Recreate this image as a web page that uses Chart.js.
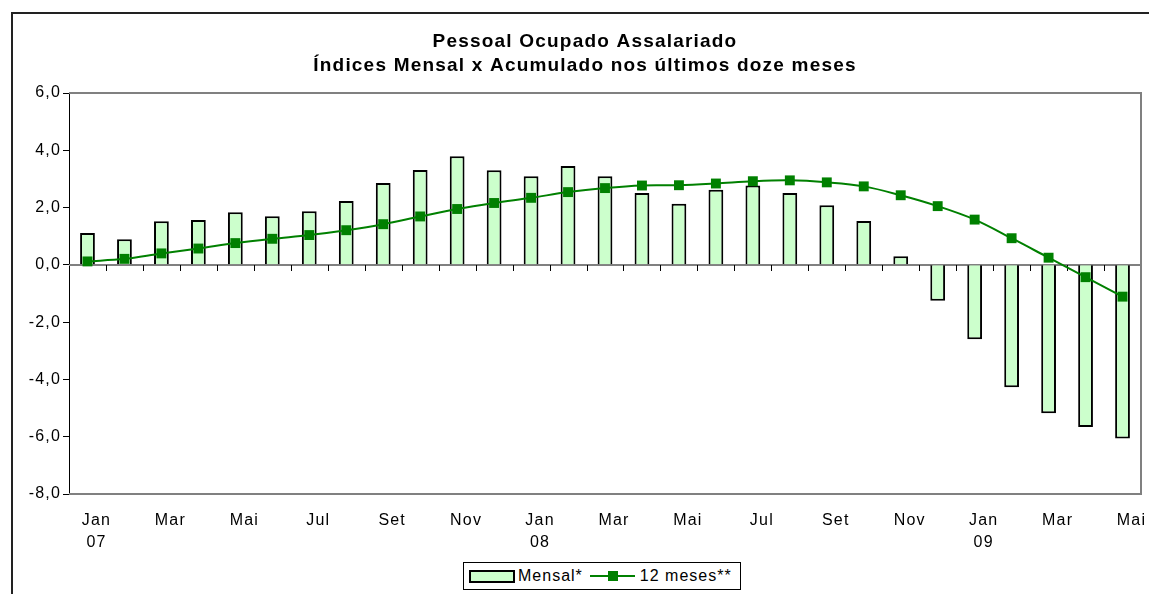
<!DOCTYPE html>
<html>
<head>
<meta charset="utf-8">
<script src="https://cdn.jsdelivr.net/npm/chart.js@4"></script>
<style>
  body { margin: 0; background: #fff; font-family: "Liberation Sans", Arial, sans-serif; }
  #wrap { position: relative; width: 1149px; height: 594px; }
  #frame { position: absolute; left: 11px; top: 12px; right: -5px; bottom: -5px; border-left: 2px solid #222; border-top: 2px solid #222; }
  #legend { position: absolute; left: 463px; top: 562px; width: 278px; height: 28px; border: 1px solid #000; background: #fff;
            display: flex; align-items: center; font-size: 16px; letter-spacing: 1px; color: #000; box-sizing: border-box; padding-left: 5px; }
  .barsw { width: 42px; height: 9px; background: #ccffcc; border: 2px solid #000; margin-right: 3px; }
  .linesw { position: relative; width: 45px; height: 12px; margin: 0 5px 0 7px; }
  .linesw:before { content: ""; position: absolute; left: 0; right: 0; top: 5px; height: 2px; background: #008000; }
  .linesw:after { content: ""; position: absolute; left: 18px; top: 1px; width: 10px; height: 10px; background: #008000; }
</style>
</head>
<body>
<div id="wrap">
  <div id="frame"></div>
  <canvas id="chart" width="1149" height="594"></canvas>
  <div id="legend"><span class="barsw"></span>Mensal*<span class="linesw"></span>12 meses**</div>
</div>
<script>
'use strict';

var categories = ['Jan 07','Fev 07','Mar 07','Abr 07','Mai 07','Jun 07','Jul 07','Ago 07','Set 07','Out 07','Nov 07','Dez 07',
                  'Jan 08','Fev 08','Mar 08','Abr 08','Mai 08','Jun 08','Jul 08','Ago 08','Set 08','Out 08','Nov 08','Dez 08',
                  'Jan 09','Fev 09','Mar 09','Abr 09','Mai 09'];

var mensal = [1.11, 0.89, 1.52, 1.57, 1.84, 1.70, 1.87, 2.23, 2.86, 3.31, 3.79, 3.30,
              3.09, 3.45, 3.09, 2.51, 2.13, 2.62, 2.77, 2.51, 2.08, 1.53, 0.30, -1.25,
              -2.60, -4.27, -5.18, -5.66, -6.06];

var dozeMeses = [0.12, 0.21, 0.40, 0.57, 0.76, 0.91, 1.04, 1.21, 1.42, 1.69, 1.95, 2.16,
                 2.34, 2.54, 2.68, 2.77, 2.78, 2.84, 2.92, 2.95, 2.88, 2.74, 2.43, 2.05,
                 1.58, 0.93, 0.25, -0.43, -1.11];

var yMin = -8, yMax = 6, yStep = 2;

// zero line with tick marks between categories + gray plot border
var axisPlugin = {
  id: 'axisPlugin',
  beforeInit: function (chart) { chart.ctx.letterSpacing = '1.2px'; },
  beforeDraw: function (chart) { chart.ctx.letterSpacing = '1.2px'; },
  beforeDatasetsDraw: function (chart) {
    var ctx = chart.ctx, x = chart.scales.x, y = chart.scales.y, a = chart.chartArea;
    var y0 = Math.round(y.getPixelForValue(0));
    ctx.save();
    ctx.strokeStyle = '#808080';
    ctx.lineWidth = 2;
    ctx.beginPath();
    ctx.moveTo(a.left, a.top); ctx.lineTo(a.right, a.top);
    ctx.lineTo(a.right, a.bottom); ctx.lineTo(a.left, a.bottom);
    ctx.stroke();
    ctx.beginPath();
    ctx.moveTo(a.left, y0); ctx.lineTo(a.right, y0);
    ctx.stroke();
    ctx.strokeStyle = '#000';
    ctx.lineWidth = 1;
    ctx.beginPath();
    for (var i = 0; i < categories.length - 1; i++) {
      var bx = Math.round((x.getPixelForValue(i) + x.getPixelForValue(i + 1)) / 2) + 0.5;
      ctx.moveTo(bx, y0); ctx.lineTo(bx, y0 + 6);
    }
    ctx.stroke();
    ctx.restore();
  }
};

var ctx = document.getElementById('chart').getContext('2d');
var chart = new Chart(ctx, {
  type: 'bar',
  data: {
    labels: categories,
    datasets: [{
      type: 'line',
      label: '12 meses**',
      data: dozeMeses,
      borderColor: '#008000',
      backgroundColor: '#008000',
      borderWidth: 2,
      pointStyle: 'rect',
      pointRadius: 7,
      pointBorderWidth: 0,
      pointBackgroundColor: '#008000',
      tension: 0.35,
      order: 0
    }, {
      label: 'Mensal*',
      data: mensal,
      backgroundColor: '#ccffcc',
      borderColor: '#000',
      borderWidth: 2,
      categoryPercentage: 1,
      barPercentage: 0.4,
      order: 1
    }]
  },
  options: {
    responsive: false,
    animation: false,
    layout: { padding: { left: 29, right: 8, top: 0, bottom: 0 } },
    plugins: {
      legend: { display: false },
      tooltip: { enabled: false },
      title: {
        display: true,
        text: ['Pessoal Ocupado Assalariado', 'Índices Mensal x Acumulado nos últimos doze meses'],
        color: '#000',
        font: { family: 'Liberation Sans', size: 19, weight: 'bold', lineHeight: 1.3 },
        padding: { top: 29, bottom: 14.6 }
      }
    },
    scales: {
      x: {
        grid: { display: false, drawTicks: false },
        border: { display: false },
        ticks: {
          autoSkip: false,
          maxRotation: 0,
          padding: 15,
          labelOffset: 9,
          color: '#000',
          font: { family: 'Liberation Sans', size: 16, lineHeight: 1.4 },
          callback: function (v, i) {
            if (i % 2 !== 0) return '';
            var parts = categories[i].split(' ');
            return parts[0] === 'Jan' ? parts : parts[0];
          }
        },
        afterFit: function (s) { s.height = 100; s.paddingLeft = 0; s.paddingRight = 0; }
      },
      y: {
        min: yMin,
        max: yMax,
        grid: { drawOnChartArea: false, color: '#000', tickLength: 6 },
        border: { color: '#000', width: 1 },
        ticks: {
          stepSize: yStep,
          padding: 2,
          color: '#000',
          font: { family: 'Liberation Sans', size: 16 },
          callback: function (v) { return v.toFixed(1).replace('.', ','); }
        },
        afterFit: function (s) { s.width = 40; }
      }
    }
  },
  plugins: [axisPlugin]
});
</script>
</body>
</html>
